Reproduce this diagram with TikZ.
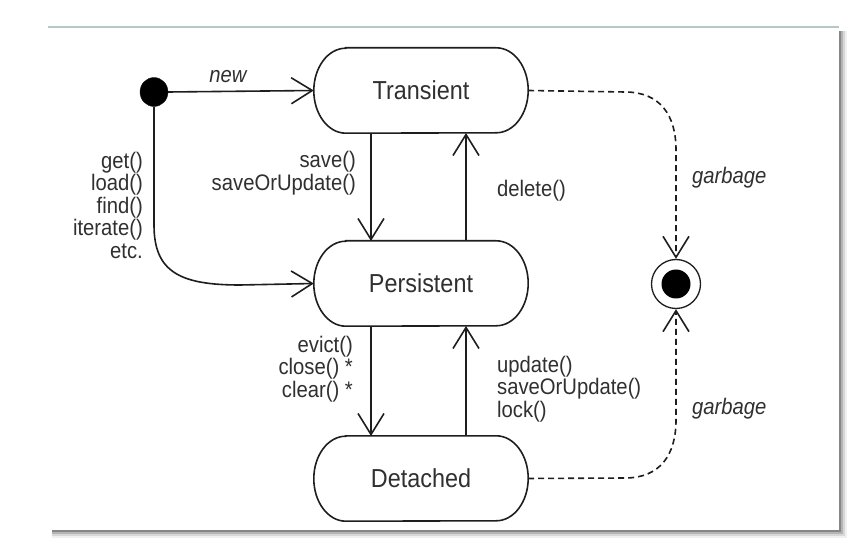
\documentclass[tikz,border=0pt]{standalone}
\usepackage{fontspec}
\setmainfont{Liberation Sans}[FakeStretch=0.9]
\usetikzlibrary{arrows.meta,shapes.geometric}
\definecolor{ink}{HTML}{1E1E1E}
\definecolor{txt}{HTML}{303030}
\tikzset{
  statebox/.style={minimum width=214pt, minimum height=85pt, inner sep=0pt,
    font=\fontsize{26}{26}\selectfont, text=txt},
  stateline/.style={draw=ink, line width=1.6pt},
  lbl/.style={font=\fontsize{22.5}{22.5}\selectfont, text=txt, inner sep=0pt},
  lblr/.style={lbl, align=right},
  lbll/.style={lbl, align=left},
  arr/.style={draw=ink, line width=1.6pt, -{Straight Barb[length=21pt,width=26pt,line width=1.6pt]}},
  darr/.style={arr, dash pattern=on 6pt off 4pt},
}
\newcommand{\stadium}[1]{%
  \draw[stateline] ([xshift=32pt]#1.north west) -- ([xshift=-32pt]#1.north east)
    arc[start angle=90, end angle=-90, x radius=32pt, y radius=42.5pt]
    -- ([xshift=32pt]#1.south west)
    arc[start angle=270, end angle=90, x radius=32pt, y radius=42.5pt] -- cycle;}
\begin{document}
\begin{tikzpicture}[x=1pt,y=-1pt]
\useasboundingbox (0,0) rectangle (868,545);
\fill[white] (0,0) rectangle (868,545);
% panel shadow
\foreach \d/\o in {8/0.06,6/0.10,4/0.16,2/0.25}{
  \fill[black,opacity=\o] (52,31) rectangle (839+\d,530+\d);
}
\fill[white] (48,27) rectangle (839,530);
\draw[line width=1.2pt, color={rgb,255:red,184;green,200;blue,200}] (48,27) -- (839,27);

% states
\node[statebox] (T) at (421,90.5) {Transient};
\node[statebox] (P) at (421,283.5) {Persistent};
\node[statebox] (D) at (421,478.5) {Detached};
\stadium{T}
\stadium{P}
\stadium{D}

% initial and final
\node[ellipse, fill=black, draw=ink, minimum width=28pt, minimum height=29pt, inner sep=0pt] (init) at (154,92) {};
\node[circle, draw=ink, line width=1.3pt, fill=white, minimum size=49pt, inner sep=0pt] (final) at (676,284) {};
\node[circle, fill=black, minimum size=29pt, inner sep=0pt] (finalin) at (676,284) {};

% coordinates
\coordinate (c1) at (154,225);
\coordinate (c2) at (240,285);
\coordinate (tS1) at (371,133);
\coordinate (pN1) at (371,241);
\coordinate (tS2) at (466,133);
\coordinate (pN2) at (466,241);
\coordinate (pS1) at (371,326);
\coordinate (dN1) at (371,436);
\coordinate (pS2) at (466,326);
\coordinate (dN2) at (466,436);
\coordinate (g1) at (625,92);
\coordinate (g2) at (676,150);
\coordinate (g3) at (625,478);
\coordinate (g4) at (676,420);

% transitions
\draw[arr] (init.east) -- (T.west);
\draw[arr] (init.south) -- (c1) .. controls (154,272) and (180,285) .. (c2) -- (P.west);
\draw[arr] (tS1) -- (pN1);
\draw[arr] (pN2) -- (tS2);
\draw[arr] (pS1) -- (dN1);
\draw[arr] (dN2) -- (pS2);
\draw[darr] (T.east) -- (g1) .. controls (660,92) and (676,115) .. (g2) -- (final.north);
\draw[darr] (D.east) -- (g3) .. controls (660,478) and (676,455) .. (g4) -- (final.south);

% labels
\node[lbl, font=\fontsize{22.5}{22.5}\selectfont\itshape] (lnew) at (228,77) {new};
\node[lblr, anchor=east] (lget) at (143,205) {\baselineskip=22pt get()\\load()\\find()\\iterate()\\etc.};
\node[lblr, anchor=east] (lsave) at (356,173) {\baselineskip=22pt save()\\saveOrUpdate()};
\node[lbll, anchor=west] (ldel) at (497,191) {delete()};
\node[lblr, anchor=east] (levict) at (353,369) {\baselineskip=21.5pt evict()\\close() *\\clear() *};
\node[lbll, anchor=west] (lupd) at (497,389) {\baselineskip=22.5pt update()\\saveOrUpdate()\\lock()};
\node[lbl, anchor=west, font=\fontsize{22.5}{22.5}\selectfont\itshape] (lg1) at (692,178) {garbage};
\node[lbl, anchor=west, font=\fontsize{22.5}{22.5}\selectfont\itshape] (lg2) at (692,409) {garbage};
\end{tikzpicture}
\end{document}
